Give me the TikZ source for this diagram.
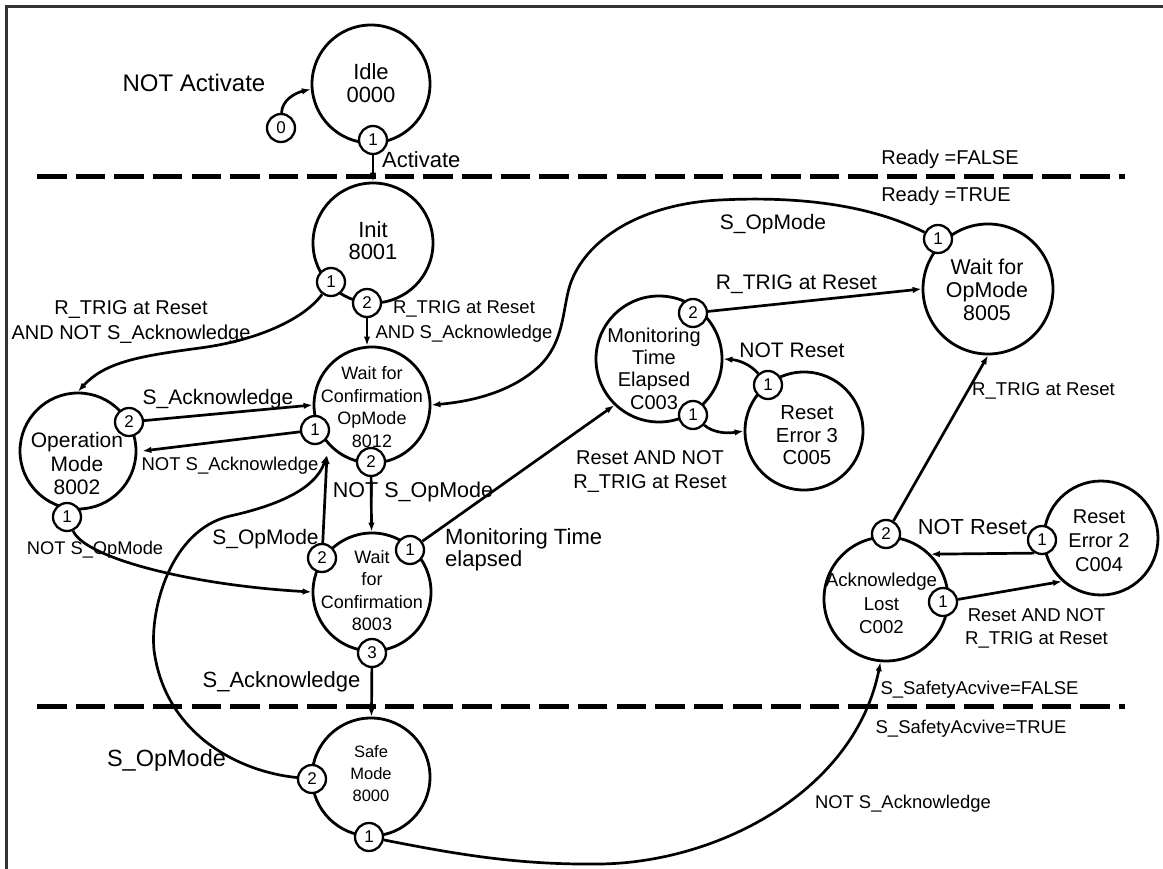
\documentclass[tikz,border=0pt]{standalone}
\usepackage{fontspec}
\setmainfont{Liberation Sans}
\usetikzlibrary{arrows.meta}
\newcommand\fsz[2]{\fontsize{#1}{#2}\selectfont}
\begin{document}
\begin{tikzpicture}[x=1pt,y=-1pt,
  st/.style={circle, draw, line width=2.8pt, minimum size=#1, inner sep=0pt},
  sm/.style={circle, draw, fill=white, line width=2.3pt, minimum size=28pt, inner sep=0pt, font=\fsz{17}{17}},
  arr/.style={line width=2.7pt, -{Latex[length=9pt,width=6.5pt]}},
  sep/.style={line width=5pt, dash pattern=on 29.5pt off 9.14pt},
  lab/.style={inner sep=0pt, align=center}]
\useasboundingbox (0,0) rectangle (1163,869);
\fill[white] (0,0) rectangle (1163,869);
% frame
\draw[line width=3pt, black!80] (6.5,869) -- (6.5,6.5) -- (1163,6.5);
% separators
\draw[sep] (37,177) -- (1125,177);
\draw[sep] (37,706) -- (1125,706);

% states
\node[st=118pt] (idle) at (371,84) {};
\node[st=120pt] (init) at (373,243) {};
\node[st=116pt] (w8012) at (372,405) {};
\node[st=116pt] (op) at (78,451) {};
\node[st=118pt] (w8003) at (372,592) {};
\node[st=118pt] (safe) at (371,777) {};
\node[st=126pt] (mon) at (659,359) {};
\node[st=118pt] (r3) at (804,431) {};
\node[st=130pt] (wop) at (988,289) {};
\node[st=124pt] (ack) at (886,599) {};
\node[st=114pt] (r2) at (1101,538) {};

% state texts
\node[lab, font=\fsz{22}{23}] (tidle) at (371,83.5) {Idle\\0000};
\node[lab, font=\fsz{22}{22}] (tinit) at (373,241) {Init\\8001};
\node[lab, font=\fsz{18}{22.7}] (tw8012) at (372,407) {Wait for\\Confirmation\\OpMode\\8012};
\node[lab, font=\fsz{21}{23.5}] (top) at (77,463.5) {Operation\\Mode\\8002};
\node[lab, font=\fsz{18}{22.3}] (tw8003) at (372,590.5) {Wait\\for\\Confirmation\\8003};
\node[lab, font=\fsz{16.5}{22}] (tsafe) at (371,774) {Safe\\Mode\\8000};
\node[lab, font=\fsz{20}{22.3}] (tmon) at (654,368.5) {Monitoring\\Time\\Elapsed\\C003};
\node[lab, font=\fsz{20.3}{22.5}] (tr3) at (807,435.5) {Reset\\Error 3\\C005};
\node[lab, font=\fsz{21.4}{23}] (twop) at (987,290) {Wait for\\OpMode\\8005};
\node[lab, font=\fsz{18.7}{23.5}] (tack) at (881.5,603.5) {Acknowledge\\Lost\\C002};
\node[lab, font=\fsz{20}{24}] (tr2) at (1099,541) {Reset\\Error 2\\C004};

% small numbered circles
\node[sm] (zero) at (281,128) {0};
\node[sm] (idle1) at (373,140) {1};
\node[sm] (init1) at (331,282) {1};
\node[sm] (init2) at (367,303) {2};
\node[sm] (w1) at (315,430) {1};
\node[sm] (w2) at (371,462) {2};
\node[sm] (op2) at (129,422) {2};
\node[sm] (op1) at (67,517) {1};
\node[sm] (c2) at (322,558) {2};
\node[sm] (c1) at (410,550) {1};
\node[sm] (c3) at (372,653) {3};
\node[sm] (s2) at (312,779) {2};
\node[sm] (s1) at (369,837) {1};
\node[sm] (mon2) at (693,313) {2};
\node[sm] (mon1) at (693,415) {1};
\node[sm] (r3one) at (768,385) {1};
\node[sm] (wop1) at (938,239) {1};
\node[sm] (ack2) at (886,534) {2};
\node[sm] (ack1) at (943,602) {1};
\node[sm] (r2one) at (1042,540) {1};

% connectors
\draw[arr] (zero) .. controls (282,100) and (295,93) .. (idle.185);
\draw[arr] (idle1) -- (init);
\draw[arr] (init2) -- (init2 |- w8012.north);
\draw[arr] (init1) .. controls (305,318) and (260,340) .. (200,348) .. controls (140,356) and (105,362) .. (op.north);
\draw[arr] (op2) -- (w8012.west);
\draw[arr] (w1) -- ([xshift=5pt]op.east);
\draw[arr] (op1) .. controls (85,558) and (190,585) .. (w8003.west);
\draw[arr] (w2) -- (w8003);
\coordinate (tgt) at (327,455);
\draw[arr] (c2) -- (tgt);
\draw[arr] (s2) .. controls (240,772) and (165,735) .. (154,650) .. controls (150,610) and (170,530) .. (230,516) .. controls (275,506) and (315,490) .. (tgt);
\draw[arr] (c1) -- (mon.226);
\draw[arr] (mon2) -- (wop.west);
\draw[arr] (wop1) .. controls (870,205) and (800,196) .. (720,200) .. controls (640,204) and (585,240) .. (570,285) .. controls (562,310) and (565,345) .. (535,370) .. controls (505,395) and (465,402) .. (w8012.east);
\draw[arr] (r3one) .. controls (750,364) and (738,360) .. (mon.east);
\draw[arr] (mon1) .. controls (712,432) and (725,434) .. (r3.west);
\draw[arr] (ack2) -- (wop.south);
\draw[arr] (r2one.240) -- (ack.45);
\draw[arr] (ack1) -- (r2.228);
\draw[arr] (s1) .. controls (460,855) and (520,865) .. (600,864) .. controls (720,862.5) and (855,790) .. (ack.265);
\draw[arr] (c3) -- (safe);

% labels
\node[lab, font=\fsz{24}{24}] (lNotAct) at (194,83) {NOT Activate};
\node[lab, font=\fsz{22}{22}, anchor=west] (lAct) at (382,160) {Activate};
\node[lab, font=\fsz{20}{20}] (lRF) at (950,159) {Ready =FALSE};
\node[lab, font=\fsz{20}{20}] (lRT) at (946,196) {Ready =TRUE};
\node[lab, font=\fsz{21}{21}] (lSOpTop) at (773,224) {S\_OpMode};
\node[lab, font=\fsz{21}{21}] (lRtrigTop) at (796.5,284) {R\_TRIG at Reset};
\node[lab, font=\fsz{21}{21}] (lNotReset3) at (792,350) {NOT Reset};
\node[lab, font=\fsz{20}{25}] (lInit1) at (131,321.6) {R\_TRIG at Reset\\AND NOT S\_Acknowledge};
\node[lab, font=\fsz{18.5}{25}] (lInit2) at (464,321.5) {R\_TRIG at Reset\\AND S\_Acknowledge};
\node[lab, font=\fsz{21}{21}] (lSAck1) at (218,399) {S\_Acknowledge};
\node[lab, font=\fsz{18.5}{18.5}] (lNSAck1) at (230,466) {NOT S\_Acknowledge};
\node[lab, font=\fsz{21.5}{21.5}] (lNSOpMid) at (413,491.5) {NOT S\_OpMode};
\node[lab, font=\fsz{18.3}{18.3}] (lNSOpLeft) at (95,550) {NOT S\_OpMode};
\node[lab, font=\fsz{21}{21}] (lSOp8003) at (265.5,539) {S\_OpMode};
\node[lab, font=\fsz{22}{22}, align=left, anchor=west] (lMonTime) at (445,550) {Monitoring Time\\elapsed};
\node[lab, font=\fsz{20}{24}] (lResetC003) at (650,471.8) {Reset AND NOT\\R\_TRIG at Reset};
\node[lab, font=\fsz{18.6}{18.6}] (lRtrigRight) at (1043.5,391) {R\_TRIG at Reset};
\node[lab, font=\fsz{21.8}{21.8}] (lNotReset2) at (972.5,527) {NOT Reset};
\node[lab, font=\fsz{18.6}{23}] (lResetAck) at (1036.5,628.2) {Reset AND NOT\\R\_TRIG at Reset};
\node[lab, font=\fsz{22}{22}] (lSAckSafe) at (281.5,681.5) {S\_Acknowledge};
\node[lab, font=\fsz{23.5}{23.5}] (lSOpBottom) at (166.5,760) {S\_OpMode};
\node[lab, font=\fsz{18.5}{18.5}] (lSafeF) at (979.5,690) {S\_SafetyAcvive=FALSE};
\node[lab, font=\fsz{18.5}{18.5}] (lSafeT) at (971,729) {S\_SafetyAcvive=TRUE};
\node[lab, font=\fsz{18.4}{18.4}] (lNSAckBottom) at (903,804) {NOT S\_Acknowledge};
\end{tikzpicture}
\end{document}
